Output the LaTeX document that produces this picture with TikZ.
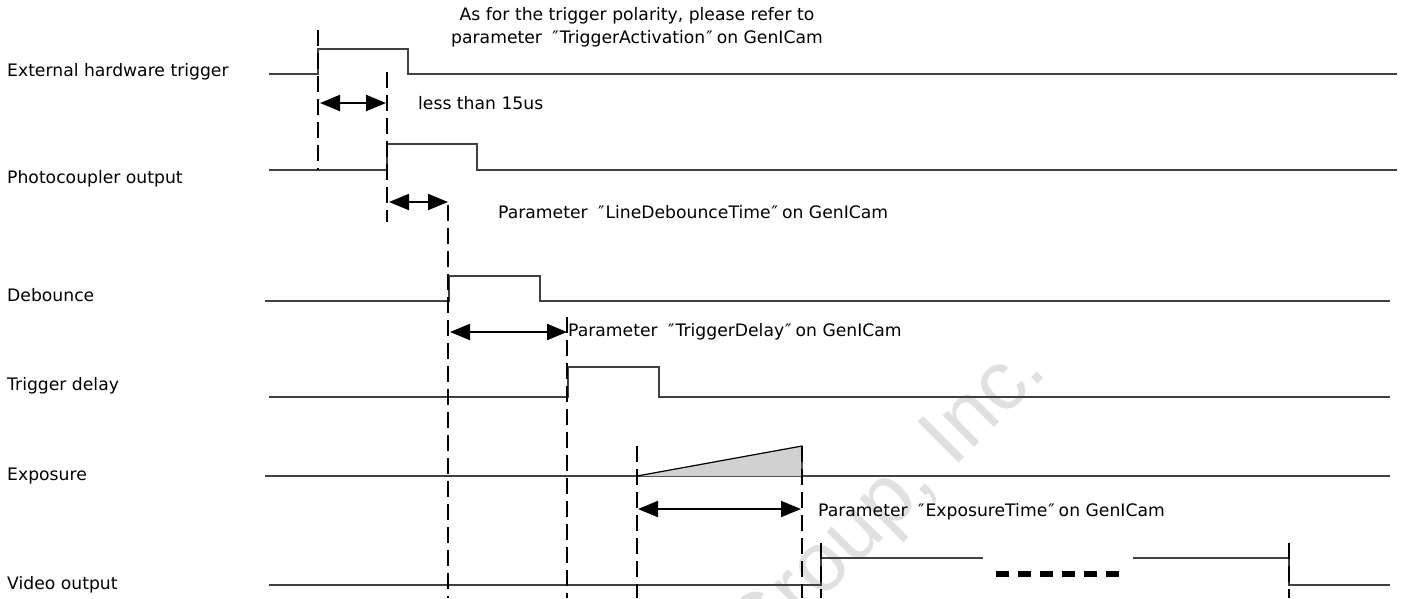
\documentclass[tikz,border=0pt]{standalone}
\usepackage{fontspec}
\setmainfont{DejaVu Sans}
\newfontfamily\wmfont{Liberation Sans}
\usetikzlibrary{arrows.meta}
\newcommand\oqm{\ \kern5pt″\kern1pt}
\newcommand\cqm{\kern1pt″\kern4pt}
\begin{document}
\begin{tikzpicture}[x=1pt,y=-1pt,
  sig/.style={line width=1.4pt,draw=black!75},
  guide/.style={line width=2.2pt,draw=black,dash pattern=on 16pt off 7pt},
  span/.style={line width=2pt,draw=black,{Triangle[length=20pt,width=16pt]}-{Triangle[length=20pt,width=16pt]}},
  lbl/.style={anchor=west,inner sep=0pt,font=\fontsize{17.2}{20}\selectfont},
  note/.style={anchor=west,inner sep=0pt,font=\fontsize{17.2}{20}\selectfont}]
\useasboundingbox (0,0) rectangle (1405,598);
\fill[white] (0,0) rectangle (1405,598);
% watermark
\begin{scope}
\clip (0,0) rectangle (1405,598);
\node[rotate=45,text=black!12,inner sep=0pt,font=\wmfont\fontsize{84}{90}\selectfont] (wm) at (888,505) {Group, Inc.};
\end{scope}
% labels
\node[lbl] (l1) at (7,72) {External hardware trigger};
\node[lbl] (l2) at (7,179) {Photocoupler output};
\node[lbl] (l3) at (7,295) {Debounce};
\node[lbl] (l4) at (7,386) {Trigger delay};
\node[lbl] (l5) at (7,476) {Exposure};
\node[lbl] (l6) at (7,585) {Video output};
% waveforms
\draw[sig] (269,74) -- (318,74) -- (318,49) -- (408,49) -- (408,74) -- (1397,74);
\draw[sig] (269,170) -- (387,170) -- (387,144) -- (477,144) -- (477,170) -- (1397,170);
\draw[sig] (265,301) -- (449,301) -- (449,276) -- (540,276) -- (540,301) -- (1390,301);
\draw[sig] (269,397) -- (568,397) -- (568,367) -- (659,367) -- (659,397) -- (1390,397);
\draw[sig] (265,476) -- (1390,476);
\fill[black!18] (637,476) -- (802,446) -- (802,476) -- cycle;
\draw[line width=1.2pt] (637,476) -- (802,446) -- (802,476);
\draw[sig] (269,585) -- (821,585) -- (821,558) -- (983,558);
\draw[sig] (1133,558) -- (1289,558) -- (1289,585) -- (1390,585);
\draw[line width=6pt,dash pattern=on 13pt off 9pt] (996,574) -- (1120,574);
% guides
\draw[guide] (318,30) -- (318,170);
\draw[guide] (387,72) -- (387,222);
\draw[guide] (448,205) -- (448,598);
\draw[guide] (567,317) -- (567,598);
\draw[guide] (637,446) -- (637,598);
\draw[guide] (802,446) -- (802,598);
\draw[guide] (821,543) -- (821,598);
\draw[guide] (1289,543) -- (1289,598);
% spans
\draw[span] (320,103) -- (386,103);
\draw[span] (389,202) -- (448,202);
\draw[span] (450,332) -- (567,332);
\draw[span] (638,509) -- (801,509);
% notes
\node[align=center,inner sep=0pt,font=\fontsize{17.2}{23}\selectfont] (n0) at (637,27) {As for the trigger polarity, please refer to\\parameter\oqm TriggerActivation\cqm on GenICam};
\node[note] (n1) at (418,103) {less than 15us};
\node[note] (n2) at (498,212) {Parameter\oqm LineDebounceTime\cqm on GenICam};
\node[note] (n3) at (568,332) {Parameter\oqm TriggerDelay\cqm on GenICam};
\node[note] (n4) at (818,512) {Parameter\oqm ExposureTime\cqm on GenICam};
\end{tikzpicture}
\end{document}
